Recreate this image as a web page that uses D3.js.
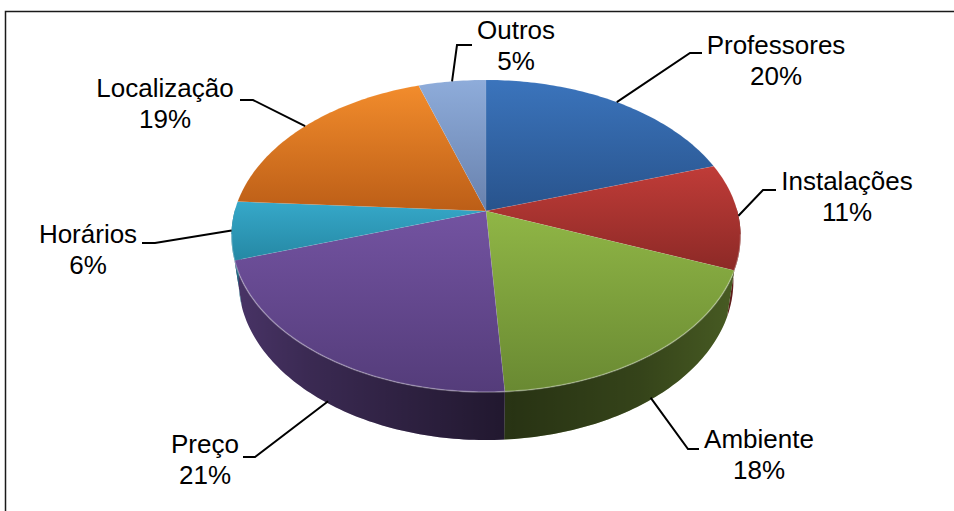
<!DOCTYPE html>
<html>
<head>
<meta charset="utf-8">
<script src="https://cdn.jsdelivr.net/npm/d3@7"></script>
<style>
  html, body { margin: 0; padding: 0; background: #fff; }
  svg { display: block; }
  text { font-family: "Liberation Sans", Arial, sans-serif; }
</style>
</head>
<body>
<svg id="chart" width="954" height="511"></svg>
<script>
// ---- data ----
const categories = ["Professores", "Instalações", "Ambiente", "Preço", "Horários", "Localização", "Outros"];
const values = [20, 11, 18, 21, 6, 19, 5];
const percentLabels = ["20%", "11%", "18%", "21%", "6%", "19%", "5%"];

// ---- styles ----
const topLight = ["#3B74BC", "#C03C38", "#90B646", "#7353A1", "#36A8C9", "#F28C2C", "#8EACDA"];
const topDark  = ["#28538C", "#8C2926", "#698932", "#543C7A", "#2588A4", "#BC5E17", "#6881AD"];

// ---- label layout (text centre, first baseline, elbow, end of leader) ----
const labelLayout = [
  { x: 776, y: 54,  elbow: [690, 53],  end: [702, 53] },
  { x: 847, y: 190, elbow: [763, 190], end: [776, 190] },
  { x: 759, y: 448, elbow: [688, 449], end: [699, 449] },
  { x: 205, y: 453, elbow: [255, 457], end: [243, 457] },
  { x: 88,  y: 243, elbow: [155, 243], end: [142, 243] },
  { x: 165, y: 97,  elbow: [253, 100], end: [240, 100] },
  { x: 516, y: 39,  elbow: [457, 45],  end: [472, 45] }
];

const svg = d3.select("#chart");
const defs = svg.append("defs");

// frame
svg.append("rect")
  .attr("x", 5.5).attr("y", 11.5).attr("width", 1000).attr("height", 600)
  .attr("fill", "none").attr("stroke", "#1a1a1a").attr("stroke-width", 1.5);

// ---- perspective projection of the pie disc ----
const CX = 486, CY = 211;
const D = 4.97, F = 1249, sinP = 0.605, cosP = 0.796, T = 0.234;
function projUV(u, v, h) {
  const yc = v * sinP + h * cosP;
  const zc = D + v * cosP - h * sinP;
  return [CX + F * u / zc, CY - F * yc / zc];
}
function proj(theta, h) { return projUV(Math.sin(theta), Math.cos(theta), h); }
function arcPoints(a0, a1, h) {
  const n = Math.max(2, Math.ceil((a1 - a0) / (Math.PI / 180)));
  return d3.range(n + 1).map(i => proj(a0 + (a1 - a0) * i / n, h));
}
const centre = projUV(0, 0, 0);

const pie = d3.pie().sort(null).value(d => d)(values);
const line = d3.line();

// side gradient overlay (horizontal shading)
const sg = defs.append("linearGradient").attr("id", "sideShade")
  .attr("gradientUnits", "userSpaceOnUse")
  .attr("x1", 232).attr("y1", 0).attr("x2", 742).attr("y2", 0);
[[0, 0.0], [0.15, 0.2], [0.55, 0.56], [0.8, 0.42], [1, 0.2]].forEach(([o, a]) =>
  sg.append("stop").attr("offset", o).attr("stop-color", "#000").attr("stop-opacity", a));

// ---- side walls ----
const wallG = svg.append("g");
pie.forEach((p, i) => {
  const a0 = Math.max(p.startAngle, Math.PI / 2 - 0.02);
  const a1 = Math.min(p.endAngle, 3 * Math.PI / 2 + 0.02);
  if (a1 <= a0) return;
  const pts = arcPoints(a0, a1, 0).concat(arcPoints(a0, a1, -T).reverse());
  const base = d3.color(d3.interpolateRgb(topLight[i], topDark[i])(0.5)).darker(0.9);
  wallG.append("path").attr("d", line(pts) + "Z").attr("fill", base.formatHex());
  wallG.append("path").attr("d", line(pts) + "Z").attr("fill", "url(#sideShade)");
});

// ---- top faces ----
const topG = svg.append("g");
pie.forEach((p, i) => {
  const gid = "g" + i;
  const g = defs.append("linearGradient").attr("id", gid)
    .attr("x1", 0).attr("y1", 0).attr("x2", 0).attr("y2", 1);
  g.append("stop").attr("offset", 0).attr("stop-color", topLight[i]);
  g.append("stop").attr("offset", 1).attr("stop-color", topDark[i]);
  const pts = [centre].concat(arcPoints(p.startAngle, p.endAngle, 0));
  topG.append("path").attr("d", line(pts) + "Z")
    .attr("fill", `url(#${gid})`)
    .attr("stroke", "rgba(255,255,255,0.12)").attr("stroke-width", 0.6);
});

// rim highlight on front edge of top face
svg.append("path")
  .attr("d", line(arcPoints(Math.PI / 2 + 0.15, 3 * Math.PI / 2 - 0.15, 0)))
  .attr("fill", "none").attr("stroke", "rgba(255,255,255,0.28)").attr("stroke-width", 1.6);

// ---- labels & leader lines ----
const labG = svg.append("g");
pie.forEach((p, i) => {
  const mid = (p.startAngle + p.endAngle) / 2;
  const front = Math.cos(mid) < -0.5;
  const s = proj(mid, front ? -T * 0.95 : 0);
  const L = labelLayout[i];
  labG.append("path")
    .attr("d", line([s, L.elbow, L.end]))
    .attr("fill", "none").attr("stroke", "#000").attr("stroke-width", 2);
  const t = labG.append("text")
    .attr("x", L.x).attr("y", L.y)
    .attr("text-anchor", "middle").attr("font-size", 26).attr("fill", "#000");
  t.append("tspan").attr("x", L.x).attr("dy", 0).text(categories[i]);
  t.append("tspan").attr("x", L.x).attr("dy", 31).text(percentLabels[i]);
});
</script>
</body>
</html>
